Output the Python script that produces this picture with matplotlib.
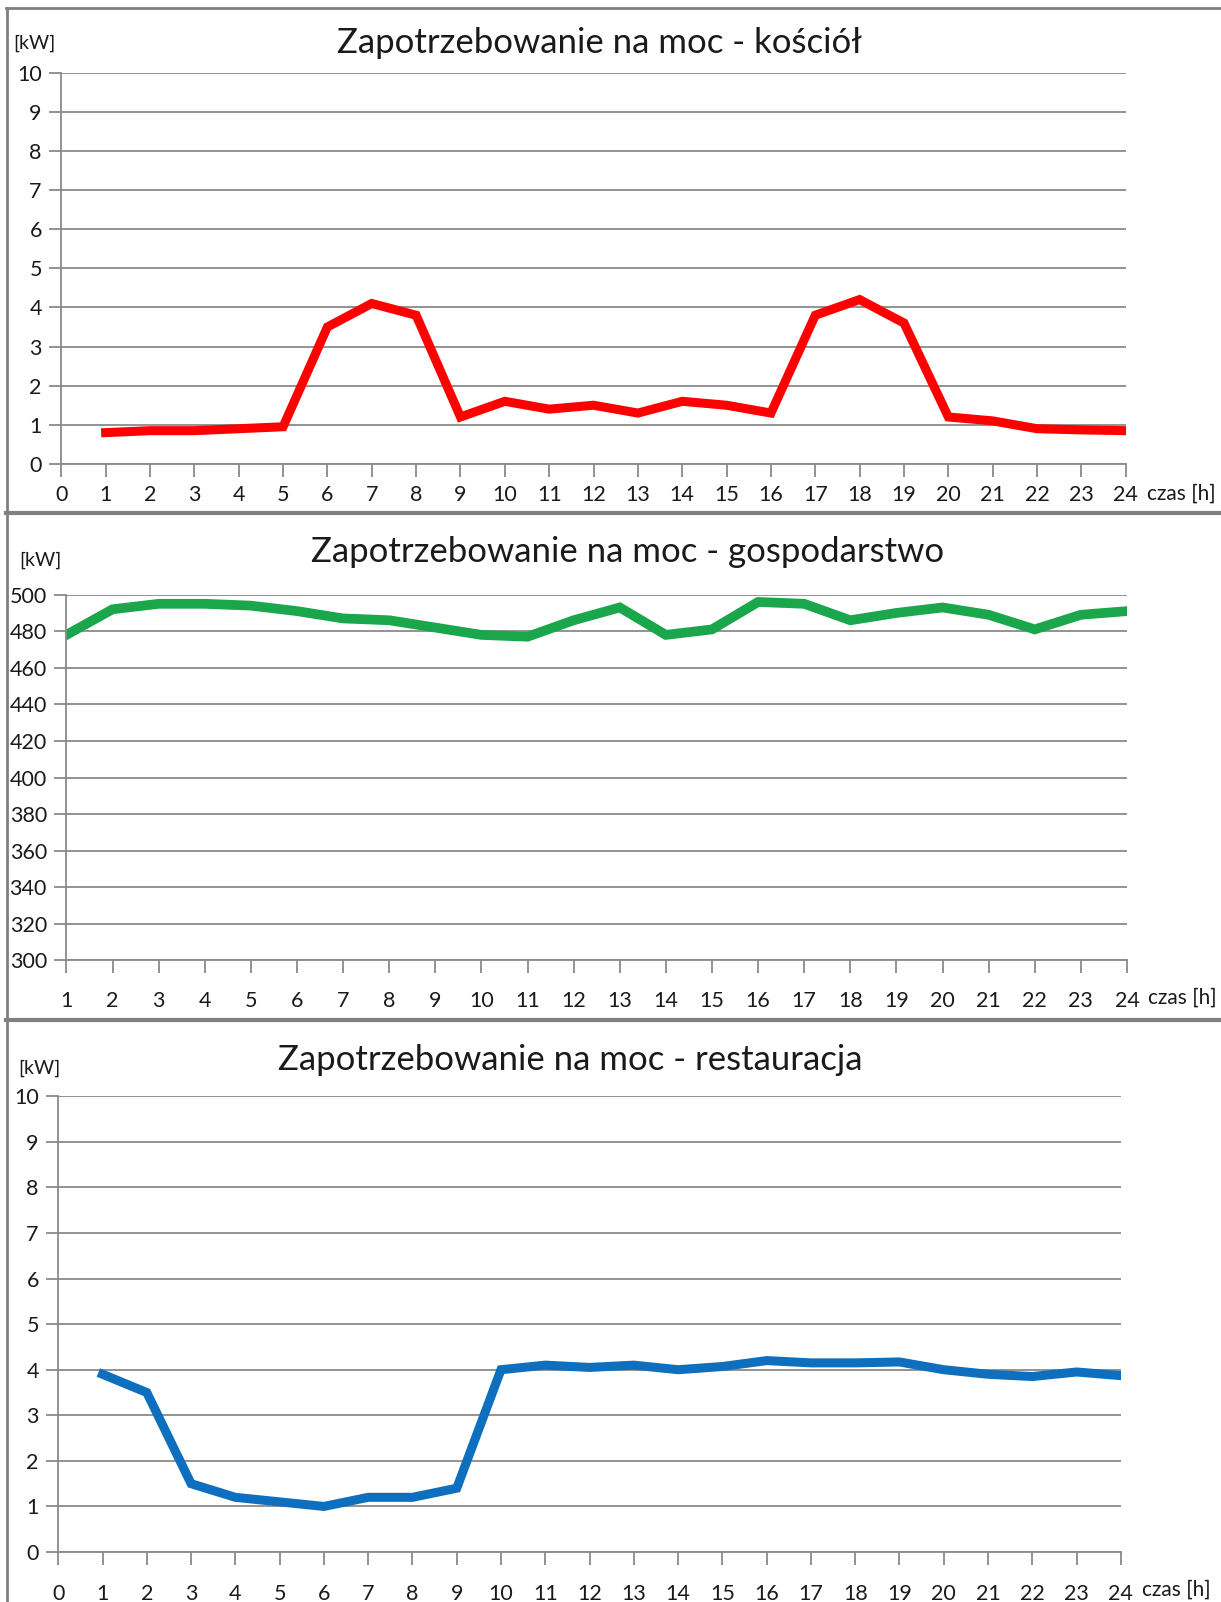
import matplotlib.pyplot as plt
from matplotlib.lines import Line2D
from matplotlib.transforms import offset_copy

plt.rcParams['font.family'] = ['Lato', 'DejaVu Sans']

hours = list(range(1, 25))
hour_labels = [str(h) for h in hours]

kosciol = [0.8, 0.85, 0.85, 0.9, 0.95, 3.5, 4.1, 3.8, 1.2, 1.6, 1.4, 1.5,
           1.3, 1.6, 1.5, 1.3, 3.8, 4.2, 3.6, 1.2, 1.1, 0.9, 0.87, 0.85]
gospodarstwo = [478, 492, 495, 495, 494, 491, 487, 486, 482, 478, 477, 486,
                493, 478, 481, 496, 495, 486, 490, 493, 489, 481, 489, 491]
restauracja = [3.9, 3.5, 1.5, 1.2, 1.1, 1.0, 1.2, 1.2, 1.4, 4.0, 4.1, 4.05,
               4.1, 4.0, 4.07, 4.2, 4.15, 4.15, 4.17, 4.0, 3.9, 3.85, 3.95, 3.87]

titles = ["Zapotrzebowanie na moc - kościół",
          "Zapotrzebowanie na moc - gospodarstwo",
          "Zapotrzebowanie na moc - restauracja"]

GRID = '#8a8a8a'
TXT = '#1a1a1a'

fig = plt.figure(figsize=(12.21, 16.02), dpi=100)


def style_axis(ax, xmin, xmax, ymin, ymax, yticks, xpad, czas_dy):
    ax.set_xlim(xmin, xmax)
    ax.set_ylim(ymin, ymax)
    ax.set_yticks(yticks)
    ax.yaxis.grid(True, color=GRID, linewidth=1.3)
    ax.set_axisbelow(True)
    for s in ['top', 'right']:
        ax.spines[s].set_visible(False)
    for s in ['left', 'bottom']:
        ax.spines[s].set_color(GRID)
        ax.spines[s].set_linewidth(1.3)
    ax.tick_params(axis='both', colors=GRID, labelcolor=TXT,
                   labelsize=15.5, length=9, width=1.3)
    ax.tick_params(axis='x', pad=xpad)
    ax.tick_params(axis='y', pad=5)
    tr = offset_copy(ax.transAxes, fig=fig, x=21, y=-czas_dy, units='dots')
    ax.text(1.0, 0.0, "czas [h]", transform=tr, fontsize=15,
            ha='left', va='center', color=TXT)


# kościół
ax1 = fig.add_axes([0.0502, 0.7104, 0.8718, 0.2443])
ax1.plot(hours, kosciol, color='#ff0000', linewidth=6.5, solid_joinstyle='miter')
ax1.set_xticks(range(0, 25))
style_axis(ax1, 0, 24, 0, 10, range(0, 11), 6, 30)
fig.text(0.491, 0.973, titles[0], fontsize=25, ha='center', va='center', color=TXT)
fig.text(0.028, 0.973, "[kW]", fontsize=14, ha='center', va='center', color=TXT)

# gospodarstwo
ax2 = fig.add_axes([0.0544, 0.4005, 0.8686, 0.2283])
ax2.plot(hours, gospodarstwo, color='#1aa64a', linewidth=7, solid_joinstyle='miter')
ax2.set_xticks(hours)
ax2.set_xticklabels(hour_labels)
style_axis(ax2, 1, 24, 300, 500, range(300, 501, 20), 13, 37)
fig.text(0.514, 0.6555, titles[1], fontsize=25, ha='center', va='center', color=TXT)
fig.text(0.033, 0.650, "[kW]", fontsize=14, ha='center', va='center', color=TXT)

# restauracja
ax3 = fig.add_axes([0.0477, 0.0312, 0.8703, 0.2845])
ax3.plot(hours, restauracja, color='#0d6fbe', linewidth=6.5, solid_joinstyle='miter')
ax3.set_xticks(range(0, 25))
style_axis(ax3, 0, 24, 0, 10, range(0, 11), 14, 38)
fig.text(0.467, 0.3386, titles[2], fontsize=25, ha='center', va='center', color=TXT)
fig.text(0.032, 0.3333, "[kW]", fontsize=14, ha='center', va='center', color=TXT)

# ramki i separatory
for y in [0.680, 0.3633]:
    fig.add_artist(Line2D([0.005, 1.0], [y, y], color='#808080', linewidth=3,
                          transform=fig.transFigure))
fig.add_artist(Line2D([0.006, 0.006], [0.0, 0.995], color='#808080', linewidth=2,
                      transform=fig.transFigure))
fig.add_artist(Line2D([0.005, 1.0], [0.995, 0.995], color='#808080', linewidth=2,
                      transform=fig.transFigure))

fig.savefig('out.png', dpi=100, facecolor='white')
